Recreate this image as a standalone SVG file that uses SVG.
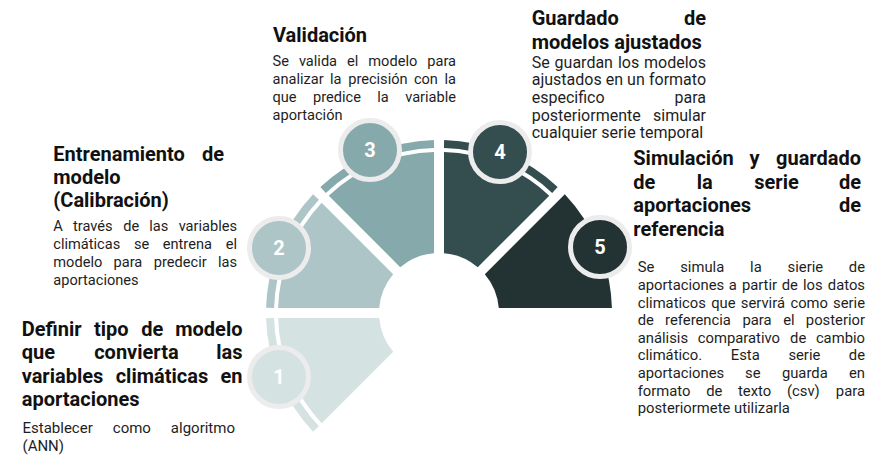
<svg xmlns="http://www.w3.org/2000/svg" width="886" height="476" viewBox="0 0 886 476">
<style>
text{font-family:Roboto,"Liberation Sans",sans-serif}
.t{font-weight:700;font-size:20px;fill:#111}
.b{font-size:14.6px;fill:#1e1e1e}
.n{font-weight:700;font-size:20px;fill:#fff;text-anchor:middle}
.ring{fill:none;stroke-width:8}
.dot{stroke:#ececec;stroke-width:5}
</style>
<rect width="886" height="476" fill="#fff"/>

<g id="node1">
<path d="M321.68 423.25A161 161 0 0 1 278.08 318L379.21 318A60 60 0 0 0 393.18 351.75Z" fill="#d5e2e2"/>
<path class="ring" d="M316 428.9A169 169 0 0 1 270.07 318.01" stroke="#d5e2e2"/>
<circle class="dot" cx="279" cy="377" r="29.5" fill="#d5e2e2"/>
<text class="n" x="279" y="384">1</text>
<text class="t" y="335.5"><tspan x="21.7">Definir</tspan><tspan x="93.9">tipo</tspan><tspan x="141.3">de</tspan><tspan x="242.5" text-anchor="end">modelo</tspan></text>
<text class="t" y="359"><tspan x="21.7">que</tspan><tspan x="94.2">convierta</tspan><tspan x="242.5" text-anchor="end">las</tspan></text>
<text class="t" y="382.5"><tspan x="21.7">variables</tspan><tspan x="115.7">climáticas</tspan><tspan x="242.5" text-anchor="end">en</tspan></text>
<text class="t" x="21.7" y="406">aportaciones</text>
<text class="b" y="433" style="font-size:15px"><tspan x="22.5">Establecer</tspan><tspan x="112.8">como</tspan><tspan x="235" text-anchor="end">algoritmo</tspan></text>
<text class="b" x="22.5" y="451" style="font-size:15px">(ANN)</text>
</g>

<g id="node2">
<path d="M278.08 308A161 161 0 0 1 321.68 202.75L393.18 274.25A60 60 0 0 0 379.21 308Z" fill="#adc5c7"/>
<path class="ring" d="M270.07 307.99A169 169 0 0 1 316 197.1" stroke="#adc5c7"/>
<circle class="dot" cx="279" cy="248" r="29.5" fill="#adc5c7"/>
<text class="n" x="279" y="255">2</text>
<text class="t" y="160.5"><tspan x="53.3">Entrenamiento</tspan><tspan x="224" text-anchor="end">de</tspan></text>
<text class="t" x="53.3" y="183.5">modelo</text>
<text class="t" x="53.3" y="206.5">(Calibración)</text>
<text class="b" y="231"><tspan x="53.3">A</tspan><tspan x="73">través</tspan><tspan x="123.2">de</tspan><tspan x="149.3">las</tspan><tspan x="237" text-anchor="end">variables</tspan></text>
<text class="b" y="249"><tspan x="53.3">climáticas</tspan><tspan x="133.9">se</tspan><tspan x="162.8">entrena</tspan><tspan x="237" text-anchor="end">el</tspan></text>
<text class="b" y="267"><tspan x="53.3">modelo</tspan><tspan x="113.5">para</tspan><tspan x="153.8">predecir</tspan><tspan x="237" text-anchor="end">las</tspan></text>
<text class="b" x="53.3" y="285">aportaciones</text>
</g>

<g id="node3">
<path d="M328.75 195.68A161 161 0 0 1 434 152.08L434 253.21A60 60 0 0 0 400.25 267.18Z" fill="#86a9ab"/>
<path class="ring" d="M323.1 190A169 169 0 0 1 433.99 144.07" stroke="#86a9ab"/>
<circle class="dot" cx="370" cy="150" r="29.5" fill="#86a9ab"/>
<text class="n" x="370" y="157">3</text>
<text class="t" x="273" y="42">Validación</text>
<text class="b" y="66" style="font-size:14.6px"><tspan x="272.5">Se</tspan><tspan x="298.9">valida</tspan><tspan x="347">el</tspan><tspan x="368.3">modelo</tspan><tspan x="456" text-anchor="end">para</tspan></text>
<text class="b" y="84" style="font-size:14.6px"><tspan x="272.5">analizar</tspan><tspan x="330">la</tspan><tspan x="348.2">precisión</tspan><tspan x="413.9">con</tspan><tspan x="456" text-anchor="end">la</tspan></text>
<text class="b" y="102" style="font-size:14.6px"><tspan x="272.5">que</tspan><tspan x="313">predice</tspan><tspan x="377.3">la</tspan><tspan x="456" text-anchor="end">variable</tspan></text>
<text class="b" x="272.5" y="120" style="font-size:14.6px">aportación</text>
</g>

<g id="node4">
<path d="M444 152.08A161 161 0 0 1 549.25 195.68L477.75 267.18A60 60 0 0 0 444 253.21Z" fill="#344d4f"/>
<path class="ring" d="M444.01 144.07A169 169 0 0 1 554.9 190" stroke="#344d4f"/>
<circle class="dot" cx="500" cy="152" r="29.5" fill="#344d4f"/>
<text class="n" x="500" y="159">4</text>
<text class="t" y="25"><tspan x="531.7">Guardado</tspan><tspan x="706" text-anchor="end">de</tspan></text>
<text class="t" x="531.7" y="49">modelos ajustados</text>
<text class="b" y="67.5" style="font-size:16px"><tspan x="531.7">Se</tspan><tspan x="554.6">guardan</tspan><tspan x="617.9">los</tspan><tspan x="706" text-anchor="end">modelos</tspan></text>
<text class="b" y="85.2" style="font-size:16px"><tspan x="531.7">ajustados</tspan><tspan x="605.7">en</tspan><tspan x="627.1">un</tspan><tspan x="706" text-anchor="end">formato</tspan></text>
<text class="b" y="102.9" style="font-size:16px"><tspan x="531.7">especifico</tspan><tspan x="706" text-anchor="end">para</tspan></text>
<text class="b" y="120.6" style="font-size:16px"><tspan x="531.7">posteriormente</tspan><tspan x="706" text-anchor="end">simular</tspan></text>
<text class="b" x="531.7" y="138.3" style="font-size:16px">cualquier serie temporal</text>
</g>

<g id="node5">
<path d="M564.8 194.27A173 173 0 0 1 611.93 308L498.79 308A60 60 0 0 0 484.82 274.25Z" fill="#233334"/>
<circle class="dot" cx="600" cy="247" r="29.5" fill="#233334"/>
<text class="n" x="600" y="254">5</text>
<text class="t" y="165"><tspan x="633.3">Simulación</tspan><tspan x="749.6">y</tspan><tspan x="861" text-anchor="end">guardado</tspan></text>
<text class="t" y="188.7"><tspan x="633.3">de</tspan><tspan x="696.7">la</tspan><tspan x="754.3">serie</tspan><tspan x="861" text-anchor="end">de</tspan></text>
<text class="t" y="212.4"><tspan x="633.3">aportaciones</tspan><tspan x="861" text-anchor="end">de</tspan></text>
<text class="t" x="633.3" y="236">referencia</text>
<g class="b" style="font-size:14.8px">
<text y="272.3"><tspan x="637.7">Se</tspan><tspan x="680.2">simula</tspan><tspan x="750.1">la</tspan><tspan x="787.6">sierie</tspan><tspan x="865" text-anchor="end">de</tspan></text>
<text y="289.9"><tspan x="637.7">aportaciones</tspan><tspan x="728.8">a</tspan><tspan x="741.9">partir</tspan><tspan x="781.7">de</tspan><tspan x="802.9">los</tspan><tspan x="865" text-anchor="end">datos</tspan></text>
<text y="307.5"><tspan x="637.7">climaticos</tspan><tspan x="711.2">que</tspan><tspan x="740.8">servirá</tspan><tspan x="790.4">como</tspan><tspan x="865" text-anchor="end">serie</tspan></text>
<text y="325.1"><tspan x="637.7">de</tspan><tspan x="665.1">referencia</tspan><tspan x="742.5">para</tspan><tspan x="783.2">el</tspan><tspan x="865" text-anchor="end">posterior</tspan></text>
<text y="342.7"><tspan x="637.7">análisis</tspan><tspan x="697.8">comparativo</tspan><tspan x="790.1">de</tspan><tspan x="865" text-anchor="end">cambio</tspan></text>
<text y="360.3"><tspan x="637.7">climático.</tspan><tspan x="730.8">Esta</tspan><tspan x="788.4">serie</tspan><tspan x="865" text-anchor="end">de</tspan></text>
<text y="377.9"><tspan x="637.7">aportaciones</tspan><tspan x="745.1">se</tspan><tspan x="781.9">guarda</tspan><tspan x="865" text-anchor="end">en</tspan></text>
<text y="395.5"><tspan x="637.7">formato</tspan><tspan x="706.2">de</tspan><tspan x="738">texto</tspan><tspan x="787">(csv)</tspan><tspan x="865" text-anchor="end">para</tspan></text>
<text x="637.7" y="413.1">posteriormete utilizarla</text>
</g>
</g>
</svg>
